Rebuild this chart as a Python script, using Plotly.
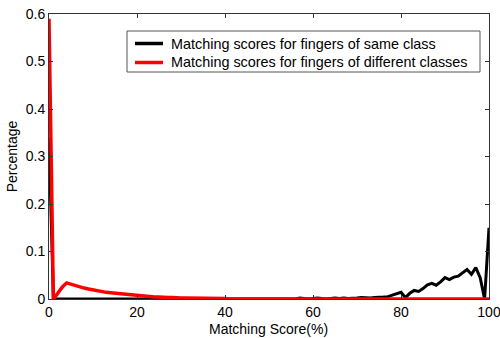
import plotly.graph_objects as go

# Matching score axis (percent)
score = list(range(0, 101))

# Genuine comparisons: fingers of the same class
same_class = [0.34, 0.0] + [0.0] * 53 + [
    0.001, 0.0, 0.002, 0.001, 0.0, 0.001, 0.002, 0.001, 0.0, 0.001,   # 55-64
    0.002, 0.001, 0.002, 0.001, 0.001, 0.002, 0.003, 0.002, 0.002, 0.003,  # 65-74
    0.003, 0.004, 0.005, 0.008, 0.011, 0.014, 0.003, 0.012, 0.018, 0.016,  # 75-84
    0.022, 0.030, 0.033, 0.029, 0.036, 0.045, 0.041, 0.046, 0.048, 0.055,  # 85-94
    0.062, 0.052, 0.066, 0.045, 0.0, 0.15,                                 # 95-100
]

# Impostor comparisons: fingers of different classes
diff_class = [0.59, 0.0, 0.012, 0.025, 0.034, 0.031, 0.028, 0.025, 0.023, 0.021,
              0.019, 0.017, 0.015, 0.014, 0.013, 0.012, 0.011, 0.010, 0.009, 0.008,
              0.007, 0.006, 0.005, 0.005, 0.004, 0.004, 0.003, 0.003, 0.003, 0.002,
              0.002, 0.002, 0.002, 0.002, 0.001, 0.001, 0.001, 0.001, 0.001, 0.001,
              0.001] + [0.0] * 60

series_names = ["Matching scores for fingers of same class",
                "Matching scores for fingers of different classes"]
series_colors = ["black", "#ff0000"]

x_ticks = [0, 20, 40, 60, 80, 100]
y_ticks = [0, 0.1, 0.2, 0.3, 0.4, 0.5, 0.6]

FONT = "Liberation Sans, Arial, sans-serif"
W, H = 500, 338
ML, MR, MT, MB = 49, 11, 14, 39

fig = go.Figure()
for vals, name, color, width in zip([same_class, diff_class], series_names,
                                    series_colors, [3, 3.5]):
    fig.add_trace(go.Scatter(
        x=score, y=vals, mode="lines",
        line=dict(color=color, width=width), name=name,
    ))

axis_common = dict(
    showline=True, linecolor="#333", linewidth=1, mirror="ticks",
    ticks="inside", ticklen=4, tickcolor="#333",
    showgrid=False, zeroline=False, automargin=False,
    ticklabeloverflow="allow",
    tickfont=dict(family=FONT, size=14, color="black"),
)


def px(x, y):
    """Convert pixel position on the page to paper coordinates."""
    pw, ph = W - ML - MR, H - MT - MB
    return (x - ML) / pw, (H - MB - y) / ph


# Boxed legend drawn in the upper part of the axes
shapes = []
annotations = []
x0, y0 = px(127, 31)
x1, y1 = px(480, 72)
shapes.append(dict(type="rect", xref="paper", yref="paper", x0=x0, y0=y1, x1=x1, y1=y0,
                   line=dict(color="#555", width=1), fillcolor="white", layer="above"))
for i, (name, color) in enumerate(zip(series_names, series_colors)):
    yy = 43.5 + 19 * i
    lx0, ly = px(135, yy)
    lx1, _ = px(163, yy)
    shapes.append(dict(type="line", xref="paper", yref="paper", x0=lx0, y0=ly, x1=lx1, y1=ly,
                       line=dict(color=color, width=3.5), layer="above"))
    tx, _ = px(169, yy)
    annotations.append(dict(xref="paper", yref="paper", x=tx, y=ly, text=name,
                            showarrow=False, xanchor="left", yanchor="middle",
                            font=dict(family=FONT, size=14.4, color="black")))

# x-axis title placed below the tick labels
tx, ty = px(268, 329)
annotations.append(dict(xref="paper", yref="paper", x=tx, y=ty, text="Matching Score(%)",
                        showarrow=False, xanchor="center", yanchor="middle",
                        font=dict(family=FONT, size=14, color="black")))

fig.update_layout(
    width=W, height=H,
    margin=dict(l=ML, r=MR, t=MT, b=MB),
    paper_bgcolor="white", plot_bgcolor="white",
    font=dict(family=FONT, color="black"),
    showlegend=False,
    shapes=shapes,
    annotations=annotations,
    xaxis=dict(
        range=[0, 100], tickvals=x_ticks, ticktext=[str(v) for v in x_ticks],
        **axis_common,
    ),
    yaxis=dict(
        range=[0, 0.6], tickvals=y_ticks,
        ticktext=["0", "0.1", "0.2", "0.3", "0.4", "0.5", "0.6"],
        title=dict(text="Percentage", font=dict(family=FONT, size=14), standoff=4),
        **axis_common,
    ),
)

fig.write_html("out.html")
